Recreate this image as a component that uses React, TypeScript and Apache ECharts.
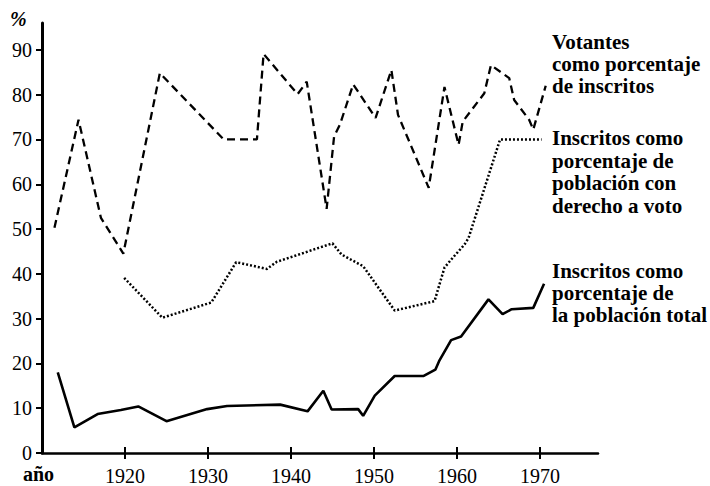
import React, { useEffect, useRef } from "react";
import * as echarts from "echarts";

const xTicks = [1920, 1930, 1940, 1950, 1960, 1970];
const yTicks = [0, 10, 20, 30, 40, 50, 60, 70, 80, 90];

const votantesYears = [1911.5, 1914.4, 1917.1, 1919.8, 1924.2, 1931.9, 1935.9, 1936.7, 1940.8, 1941.9, 1944.3, 1945.2, 1945.9, 1947.5, 1950.2, 1952.1, 1952.9, 1956.6, 1958.5, 1960.2, 1960.7, 1963.3, 1964.1, 1966.3, 1966.9, 1968.7, 1969.2, 1970.7];
const votantesValues = [50.3, 74.4, 52.5, 44.5, 84.8, 70, 70, 89.1, 80.1, 82.9, 54.5, 70.7, 73.3, 82.3, 74.8, 85.5, 75.5, 59.2, 81.7, 68.8, 74, 80.3, 86.6, 83.7, 78.8, 74.4, 72.2, 82];

const derechoYears = [1919.9, 1924.5, 1930.4, 1933.4, 1937.1, 1938.3, 1945, 1946.1, 1948.7, 1952.5, 1957.3, 1958.5, 1959.5, 1960.9, 1961.4, 1965.2, 1970.2];
const derechoValues = [39.1, 30.2, 33.6, 42.6, 41.1, 42.7, 46.8, 44.3, 41.7, 31.8, 33.9, 41.4, 43.6, 46.5, 48, 70, 70];

const totalYears = [1911.9, 1913.9, 1916.7, 1919.5, 1921.6, 1925, 1929.9, 1932.3, 1938.7, 1942, 1943.9, 1944.9, 1948.1, 1948.7, 1950.1, 1952.5, 1956, 1957.4, 1957.9, 1959.3, 1960.5, 1963.8, 1965.5, 1966.6, 1969.2, 1970.5];
const totalValues = [18, 5.7, 8.7, 9.6, 10.4, 7.1, 9.8, 10.5, 10.8, 9.3, 13.9, 9.7, 9.8, 8.3, 12.8, 17.2, 17.2, 18.6, 20.7, 25.2, 26, 34.3, 31, 32.1, 32.4, 37.8];

const label1 = "Votantes\ncomo porcentaje\nde inscritos";
const label2 = "Inscritos como\nporcentaje de\npoblación con\nderecho a voto";
const label3 = "Inscritos como\nporcentaje de\nla población total";

const FONT = '"Liberation Serif", "Times New Roman", serif';

const pairs = (xs: number[], ys: number[]) => xs.map((x, i) => [x, ys[i]]);

export default function App() {
  const ref = useRef<HTMLDivElement>(null);
  useEffect(() => {
    if (!ref.current) return;
    const chart = echarts.init(ref.current, null, { renderer: "svg" });
    const lineBase = { type: "line", symbol: "none", xAxisIndex: 0, yAxisIndex: 0, silent: true };
    chart.setOption({
      animation: false,
      backgroundColor: "#fff",
      grid: { left: 42, top: 23, width: 556, height: 431 },
      xAxis: [
        {
          type: "value",
          min: 1910,
          max: 1977,
          position: "bottom",
          axisLine: { show: true, lineStyle: { color: "#000", width: 2.5 } },
          axisTick: { show: true, length: 6, lineStyle: { color: "#000", width: 2 }, customValues: xTicks },
          axisLabel: {
            customValues: xTicks,
            formatter: (v: number) => String(v),
            color: "#000",
            fontFamily: "Liberation Serif",
            fontSize: 20,
            margin: 13,
          },
          splitLine: { show: false },
        },
        {
          type: "value",
          min: 1910,
          max: 1977,
          position: "bottom",
          axisLine: { show: false },
          axisTick: { show: true, inside: true, length: 6, lineStyle: { color: "#000", width: 2 }, customValues: xTicks },
          axisLabel: { show: false },
          splitLine: { show: false },
        },
      ],
      yAxis: {
        type: "value",
        min: 0,
        max: 96,
        axisLine: { show: true, lineStyle: { color: "#000", width: 3 } },
        axisTick: { show: true, length: 6, lineStyle: { color: "#000", width: 2 }, customValues: yTicks },
        axisLabel: {
          customValues: yTicks,
          formatter: (v: number) => String(v),
          color: "#000",
          fontFamily: "Liberation Serif",
          fontSize: 20,
          margin: 10,
        },
        splitLine: { show: false },
      },
      series: [
        { ...lineBase, name: "Votantes", data: pairs(votantesYears, votantesValues), lineStyle: { color: "#000", width: 2.3, type: [8, 5] } },
        { ...lineBase, name: "Derecho", data: pairs(derechoYears, derechoValues), lineStyle: { color: "#000", width: 2.5, type: [2, 2] } },
        { ...lineBase, name: "Total", data: pairs(totalYears, totalValues), lineStyle: { color: "#000", width: 2.6 } },
      ],
      graphic: [
        { type: "text", left: 10, top: 9, style: { text: "%", fontFamily: "Liberation Serif", fontSize: 20, fontWeight: "bold", fontStyle: "italic", fill: "#000" } },
        { type: "text", left: 23, top: 464, style: { text: "año", fontFamily: "Liberation Serif", fontSize: 20, fontWeight: "bold", fill: "#000" } },
        { type: "text", left: 552, top: 31, style: { text: label1, fontFamily: "Liberation Serif", fontSize: 21, fontWeight: "bold", lineHeight: 22, fill: "#000" } },
        { type: "text", left: 552, top: 127, style: { text: label2, fontFamily: "Liberation Serif", fontSize: 21, fontWeight: "bold", lineHeight: 22.5, fill: "#000" } },
        { type: "text", left: 552, top: 260, style: { text: label3, fontFamily: "Liberation Serif", fontSize: 21, fontWeight: "bold", lineHeight: 22, fill: "#000" } },
      ],
    });
    return () => chart.dispose();
  }, []);
  return <div ref={ref} style={{ position: "absolute", left: 0, top: 0, width: 710, height: 486, background: "#fff" }} />;
}
